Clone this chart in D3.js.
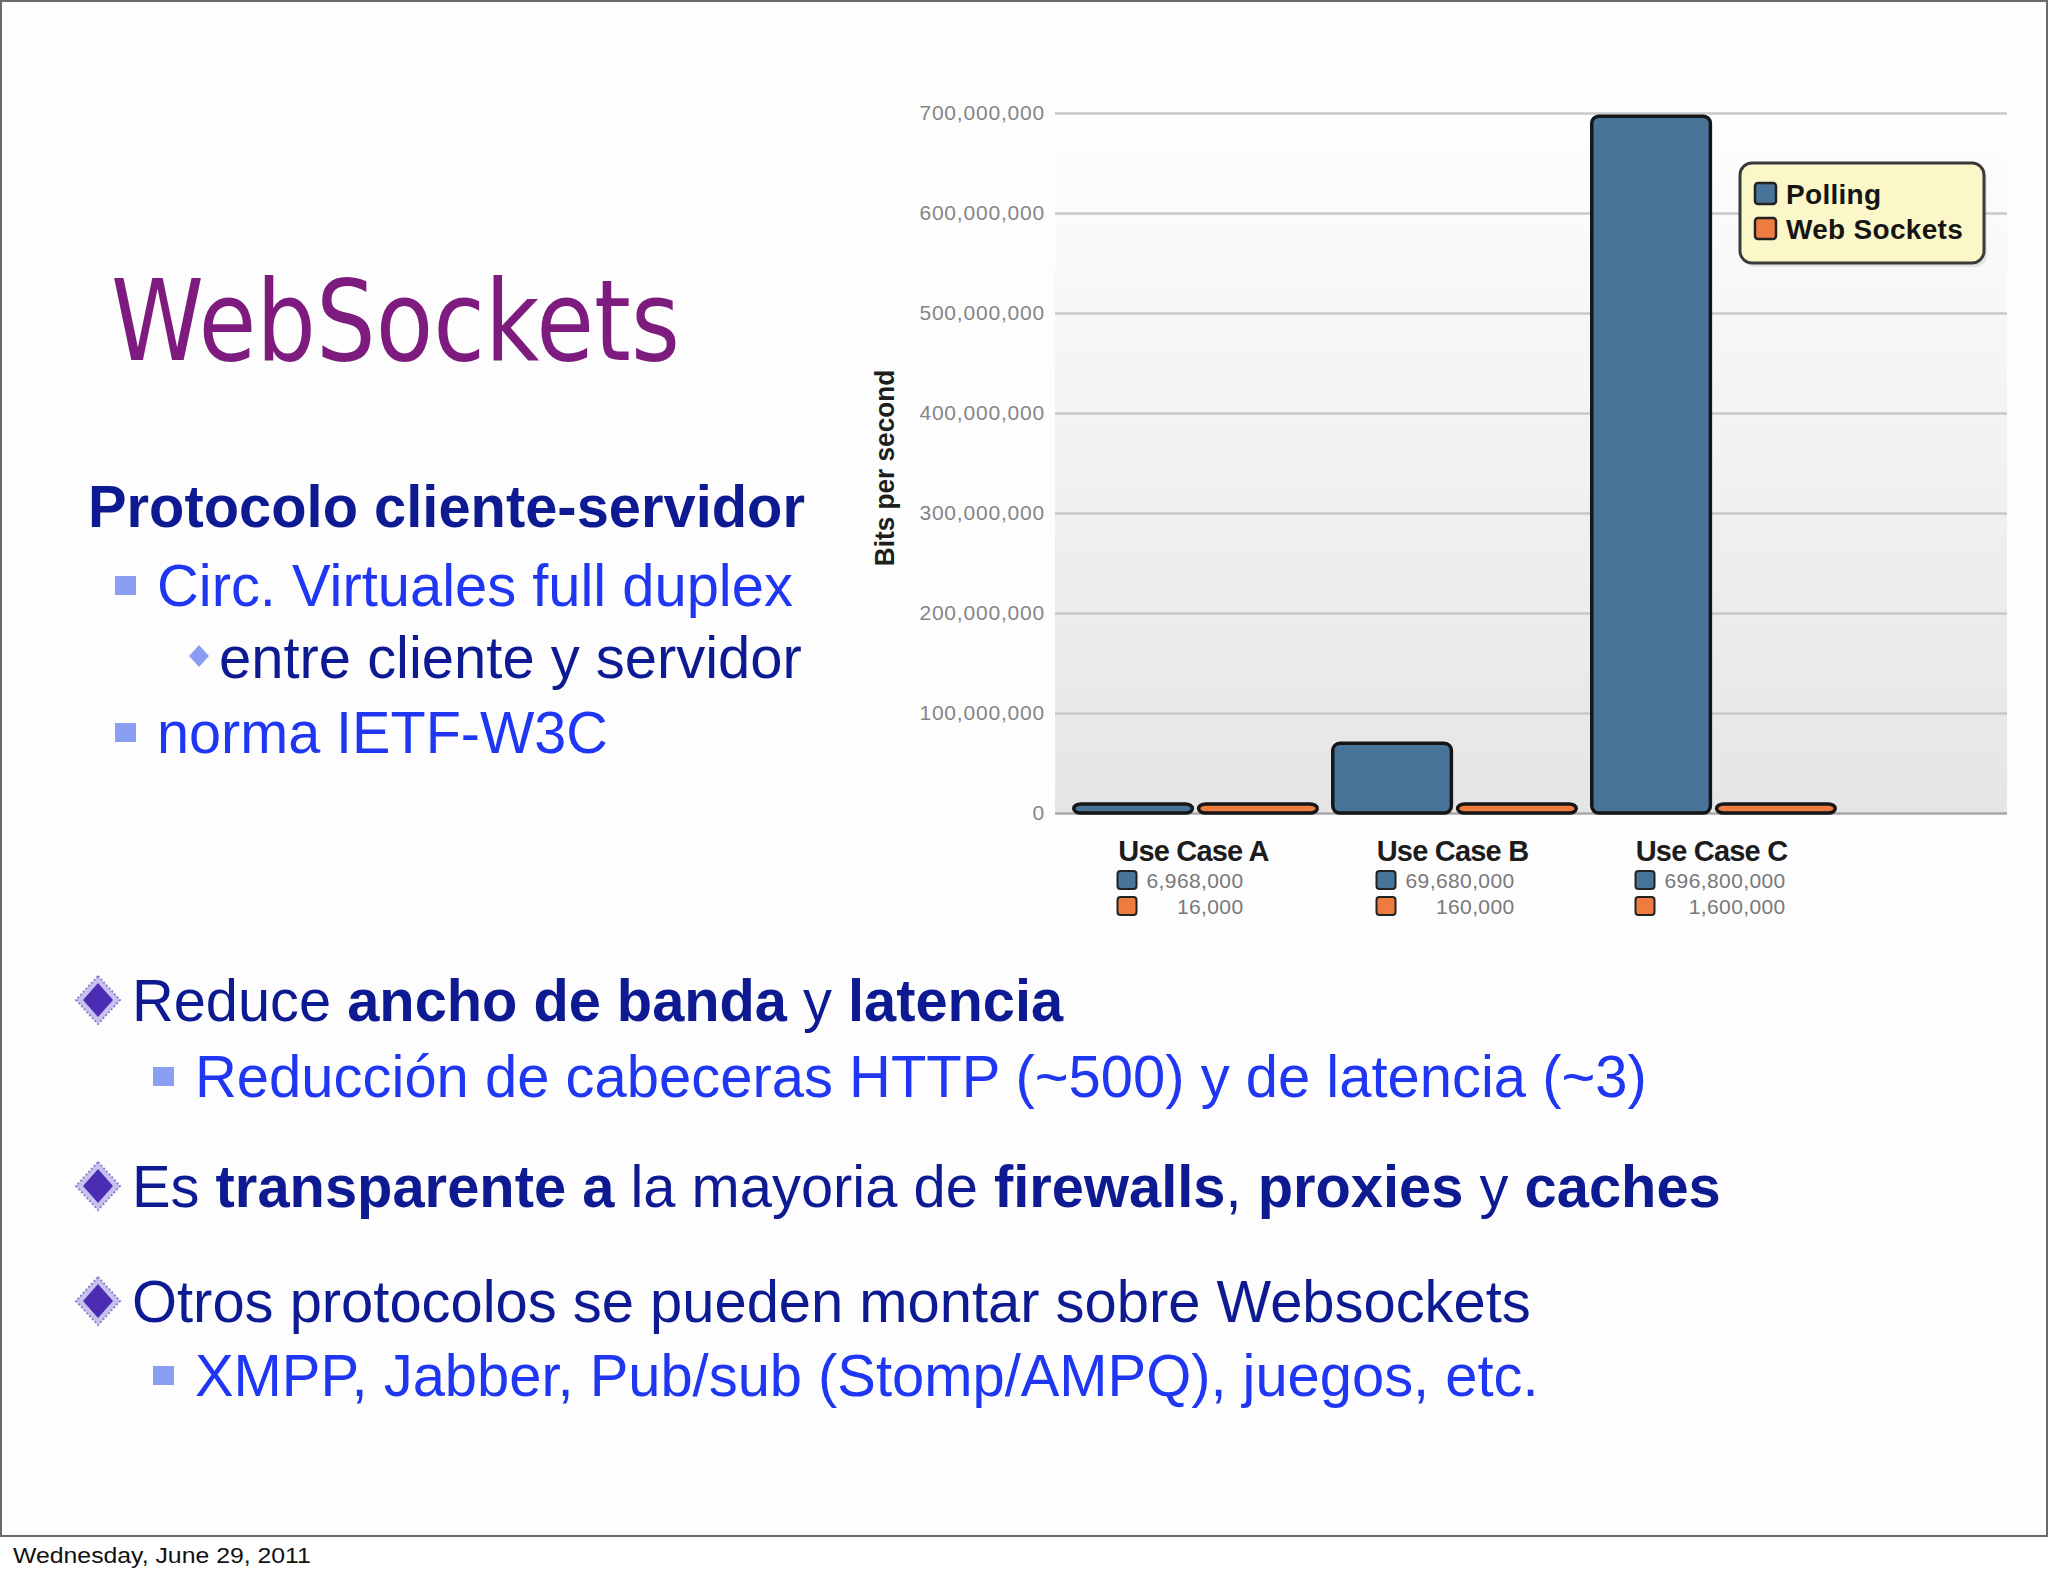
<!DOCTYPE html>
<html>
<head>
<meta charset="utf-8">
<script src="https://cdn.jsdelivr.net/npm/d3@7"></script>
<style>
  body { margin: 0; background: #fff; }
  svg text { font-family: "Liberation Sans", Arial, Helvetica, sans-serif; }
</style>
</head>
<body>
<div id="chart"></div>
<script>
// chart data
const categories = ["Use Case A", "Use Case B", "Use Case C"];
const seriesNames = ["Polling", "Web Sockets"];
const pollingValues = [6968000, 69680000, 696800000];
const webSocketValues = [16000, 160000, 1600000];
const yTicks = [0, 100000000, 200000000, 300000000, 400000000, 500000000, 600000000, 700000000];
const seriesColors = ["#48749a", "#ee7b3f"];

// slide text
const titleText = "WebSockets";
const dateText = "Wednesday, June 29, 2011";
// [parts, level, baseline, left, right]  parts: [text, bold]
const topLines = [
  [[["Protocolo cliente-servidor", true]], 0, 527, 88, 805],
  [[["Circ. Virtuales full duplex", false]], 1, 606, 157, 793],
  [[["entre cliente y servidor", false]], 2, 678, 219, 802],
  [[["norma IETF-W3C", false]], 1, 753, 157, 608]
];
const bottomLines = [
  [[["Reduce ", false], ["ancho de banda", true], [" y ", false], ["latencia", true]], 0, 1021, 132, 1064],
  [[["Reducción de cabeceras HTTP (~500) y de latencia (~3)", false]], 1, 1097, 195, 1647],
  [[["Es ", false], ["transparente a", true], [" la mayoria de ", false], ["firewalls", true], [", ", false], ["proxies", true], [" y ", false], ["caches", true]], 0, 1207, 132, 1721],
  [[["Otros protocolos se pueden montar sobre Websockets", false]], 0, 1322, 132, 1531],
  [[["XMPP, Jabber, Pub/sub (Stomp/AMPQ), juegos, etc.", false]], 1, 1396, 195, 1539]
];

const W = 2048, H = 1576;
const svg = d3.select("#chart").append("svg")
  .attr("width", W).attr("height", H);

svg.append("rect").attr("width", W).attr("height", H).attr("fill", "#fff");

// slide frame
svg.append("rect")
  .attr("x", 1).attr("y", 1).attr("width", W - 2).attr("height", 1535)
  .attr("fill", "#fdfdfe").attr("stroke", "#6a6a6a").attr("stroke-width", 2);

// squeeze a text horizontally so it spans [x, x+w]
function fit(sel, x, y, w) {
  const b = sel.node().getBBox();
  sel.attr("transform", `translate(${x - b.x * w / b.width},${y}) scale(${w / b.width},1)`);
}

svg.append("text").text(dateText)
  .attr("font-size", 22).attr("fill", "#111")
  .call(fit, 13, 1563, 298);

// title
svg.append("text").text(titleText)
  .style("font-family", "'DejaVu Sans', sans-serif")
  .attr("font-size", 112).attr("fill", "#7d1c7e")
  .call(fit, 111, 360, 569);

const levelColor = ["#0d1a92", "#1f37f2", "#0d1a92"];

function drawLine(line) {
  const [parts, level, base, left, right] = line;
  const t = svg.append("text").attr("font-size", 60).attr("fill", levelColor[level]);
  parts.forEach(p => t.append("tspan").text(p[0]).attr("font-weight", p[1] ? "bold" : "normal"));
  fit(t, left, base, right - left);
  if (level === 0 && line !== topLines[0]) {
    // 3d purple diamond
    const cx = left - 34, cy = base - 21;
    svg.append("path")
      .attr("d", `M${cx},${cy - 24}L${cx + 22},${cy}L${cx},${cy + 24}L${cx - 22},${cy}Z`)
      .attr("fill", "#c9c2ee").attr("stroke", "#8c82cf").attr("stroke-width", 2)
      .attr("stroke-dasharray", "2,2");
    svg.append("path")
      .attr("d", `M${cx},${cy - 17}L${cx + 15},${cy}L${cx},${cy + 17}L${cx - 15},${cy}Z`)
      .attr("fill", "#4a2db2");
  } else if (level === 1) {
    svg.append("rect")
      .attr("x", left - 42).attr("y", base - 30).attr("width", 21).attr("height", 19)
      .attr("fill", "#8b9ff2");
  } else if (level === 2) {
    const cx = left - 20, cy = base - 22;
    svg.append("path")
      .attr("d", `M${cx},${cy - 11}L${cx + 10},${cy}L${cx},${cy + 11}L${cx - 10},${cy}Z`)
      .attr("fill", "#8b9ff2");
  }
}
topLines.forEach(drawLine);
bottomLines.forEach(drawLine);

// ---- chart ----
const plotLeft = 1055, plotRight = 2007;
const y = d3.scaleLinear().domain([0, 700000000]).range([813, 113]);

const x0 = d3.scaleBand().domain(categories).range([1066, 1843])
  .paddingInner(0.06).paddingOuter(0.03);
const x1 = d3.scaleBand().domain(seriesNames).range([0, x0.bandwidth()])
  .paddingInner(0.05);
const color = d3.scaleOrdinal().domain(seriesNames).range(seriesColors);

const defs = svg.append("defs");
const grad = defs.append("linearGradient").attr("id", "plotbg")
  .attr("x1", 0).attr("y1", 0).attr("x2", 0).attr("y2", 1);
grad.append("stop").attr("offset", "0%").attr("stop-color", "#fefefe");
grad.append("stop").attr("offset", "100%").attr("stop-color", "#e5e5e8");

svg.append("rect")
  .attr("x", plotLeft).attr("y", y(700000000))
  .attr("width", plotRight - plotLeft).attr("height", y(0) - y(700000000))
  .attr("fill", "url(#plotbg)");

const yAxis = svg.append("g")
  .attr("transform", `translate(${plotLeft},0)`)
  .call(d3.axisLeft(y)
    .tickValues(yTicks)
    .tickFormat(d3.format(","))
    .tickSize(-(plotRight - plotLeft))
    .tickPadding(10));
yAxis.select(".domain").remove();
yAxis.selectAll(".tick line")
  .attr("stroke", d => d === 0 ? "#a8a8a8" : "#c8c8ca")
  .attr("stroke-width", 2.5);
yAxis.selectAll(".tick text")
  .attr("fill", "#858585")
  .attr("font-size", 21)
  .attr("letter-spacing", 0.8)
  .style("font-family", "'Liberation Sans', Arial, sans-serif");

svg.append("text").text("Bits per second")
  .attr("font-size", 27).attr("font-weight", "bold").attr("fill", "#1e1e1e")
  .attr("text-anchor", "middle")
  .attr("transform", "translate(894,468) rotate(-90) scale(0.97,1)");

const rows = categories.map((c, i) => ({
  cat: c,
  values: [
    { key: seriesNames[0], v: pollingValues[i] },
    { key: seriesNames[1], v: webSocketValues[i] }
  ]
}));

const minH = 9;
svg.append("g").selectAll("g")
  .data(rows)
  .join("g")
  .attr("transform", d => `translate(${x0(d.cat)},0)`)
  .selectAll("rect")
  .data(d => d.values)
  .join("rect")
  .attr("x", d => x1(d.key))
  .attr("width", x1.bandwidth())
  .attr("y", d => Math.min(y(d.v), y(0) - minH))
  .attr("height", d => Math.max(y(0) - y(d.v), minH))
  .attr("rx", 7)
  .attr("fill", d => color(d.key))
  .attr("stroke", "#161616")
  .attr("stroke-width", 3.5);

// category labels with value table
const fmt = d3.format(",");
rows.forEach(r => {
  const cx = x0(r.cat) + x0.bandwidth() / 2;
  svg.append("text").text(r.cat)
    .attr("x", cx - 2).attr("y", 861)
    .attr("text-anchor", "middle")
    .attr("font-size", 29).attr("font-weight", "bold").attr("fill", "#1c1c1c")
    .attr("letter-spacing", -0.8);

  const sw = cx - 78;
  r.values.forEach((d, j) => {
    svg.append("rect")
      .attr("x", sw).attr("y", 871 + j * 26).attr("width", 19).attr("height", 18)
      .attr("rx", 3).attr("fill", color(d.key))
      .attr("stroke", "#222").attr("stroke-width", 2);
  });
  const first = svg.append("text").text(fmt(r.values[0].v))
    .attr("x", sw + 29).attr("y", 888)
    .attr("font-size", 21).attr("fill", "#787878").attr("letter-spacing", 0.4);
  const right = sw + 29 + first.node().getComputedTextLength();
  svg.append("text").text(fmt(r.values[1].v))
    .attr("x", right).attr("y", 914)
    .attr("text-anchor", "end")
    .attr("font-size", 21).attr("fill", "#787878").attr("letter-spacing", 0.4);
});

// legend
const legend = svg.append("g").attr("transform", "translate(1740,163)");
legend.append("rect")
  .attr("x", 3).attr("y", 4).attr("width", 244).attr("height", 100).attr("rx", 12)
  .attr("fill", "#000").attr("opacity", 0.08);
legend.append("rect")
  .attr("width", 244).attr("height", 100).attr("rx", 12)
  .attr("fill", "#fcf7c8").attr("stroke", "#3a3a3a").attr("stroke-width", 3);
seriesNames.forEach((s, i) => {
  legend.append("rect")
    .attr("x", 15).attr("y", 20 + i * 35).attr("width", 21).attr("height", 21).attr("rx", 3)
    .attr("fill", color(s)).attr("stroke", "#222").attr("stroke-width", 2.5);
  legend.append("text").text(s)
    .attr("x", 46).attr("y", 41 + i * 35)
    .attr("font-size", 28).attr("font-weight", "bold").attr("fill", "#151515")
    .attr("letter-spacing", 0.3);
});
</script>
</body>
</html>
